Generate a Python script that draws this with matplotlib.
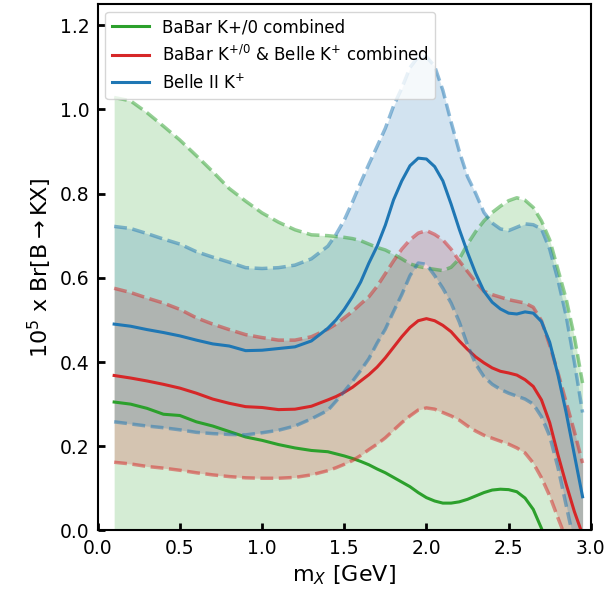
import numpy as np
import matplotlib
matplotlib.use("Agg")
import matplotlib.pyplot as plt

# m_X grid [GeV]: coarse below 1.4, finer where the curves bend
mx = [0.1, 0.2, 0.3, 0.4, 0.5, 0.6, 0.7, 0.8, 0.9, 1.0, 1.1, 1.2, 1.3, 1.4,
      1.45, 1.5, 1.55, 1.6, 1.65, 1.7, 1.75, 1.8, 1.85, 1.9, 1.95, 2.0,
      2.05, 2.1, 2.15, 2.2, 2.25, 2.3, 2.35, 2.4, 2.45, 2.5, 2.55, 2.6,
      2.65, 2.7, 2.75, 2.8, 2.85, 2.9, 2.95]

# BaBar K+/0 combined
babar_c = [0.305, 0.300, 0.290, 0.276, 0.273, 0.258, 0.248, 0.235, 0.222, 0.214,
           0.204, 0.196, 0.190, 0.187,
           0.182, 0.177, 0.171, 0.164, 0.156, 0.146, 0.137, 0.126, 0.115, 0.104,
           0.090, 0.078, 0.070, 0.065, 0.065, 0.068, 0.074, 0.082, 0.090, 0.096,
           0.098, 0.097, 0.092, 0.077, 0.050, 0.005, -0.05, -0.10, -0.15, -0.20, -0.25]
babar_hi = [1.028, 1.020, 0.992, 0.960, 0.927, 0.890, 0.852, 0.812, 0.782, 0.754,
            0.732, 0.714, 0.702, 0.700,
            0.698, 0.696, 0.693, 0.688, 0.680, 0.672, 0.666, 0.656, 0.645, 0.633,
            0.627, 0.623, 0.620, 0.617, 0.625, 0.645, 0.680, 0.710, 0.735, 0.755,
            0.770, 0.783, 0.790, 0.784, 0.767, 0.735, 0.690, 0.620, 0.550, 0.460, 0.350]
babar_lo = [-0.1] * len(mx)

# BaBar K+/0 & Belle K+ combined
comb_c = [0.368, 0.362, 0.355, 0.347, 0.338, 0.326, 0.312, 0.302, 0.294, 0.292,
          0.287, 0.288, 0.295, 0.310,
          0.318, 0.328, 0.340, 0.355, 0.370, 0.388, 0.410, 0.435, 0.460, 0.482,
          0.498, 0.503, 0.498, 0.487, 0.472, 0.450, 0.430, 0.412, 0.398, 0.386,
          0.378, 0.374, 0.369, 0.358, 0.342, 0.310, 0.256, 0.180, 0.110, 0.045, -0.01]
comb_hi = [0.575, 0.565, 0.552, 0.540, 0.525, 0.505, 0.490, 0.477, 0.465, 0.458,
           0.452, 0.452, 0.460, 0.478,
           0.490, 0.505, 0.520, 0.538, 0.555, 0.580, 0.610, 0.640, 0.668, 0.690,
           0.706, 0.712, 0.703, 0.690, 0.668, 0.640, 0.615, 0.590, 0.568, 0.560,
           0.554, 0.548, 0.544, 0.540, 0.530, 0.498, 0.440, 0.375, 0.305, 0.235, 0.160]
comb_lo = [0.162, 0.158, 0.152, 0.148, 0.143, 0.137, 0.132, 0.128, 0.125, 0.124,
           0.124, 0.126, 0.132, 0.142,
           0.149, 0.157, 0.166, 0.178, 0.192, 0.205, 0.220, 0.238, 0.256, 0.272,
           0.286, 0.291, 0.288, 0.280, 0.272, 0.262, 0.248, 0.236, 0.226, 0.219,
           0.212, 0.205, 0.196, 0.184, 0.160, 0.125, 0.082, 0.030, -0.02, -0.08, -0.13]

# Belle II K+
belle_c = [0.490, 0.485, 0.477, 0.470, 0.462, 0.452, 0.443, 0.438, 0.427, 0.428,
           0.432, 0.436, 0.450, 0.480,
           0.500, 0.525, 0.555, 0.590, 0.635, 0.675, 0.725, 0.785, 0.830, 0.866,
           0.884, 0.882, 0.864, 0.830, 0.775, 0.715, 0.660, 0.610, 0.568, 0.542,
           0.526, 0.516, 0.514, 0.519, 0.516, 0.496, 0.447, 0.370, 0.280, 0.180, 0.080]
belle_hi = [0.722, 0.717, 0.705, 0.692, 0.680, 0.662, 0.649, 0.637, 0.624, 0.622,
            0.624, 0.630, 0.645, 0.675,
            0.703, 0.737, 0.780, 0.826, 0.870, 0.912, 0.955, 1.008, 1.050, 1.099,
            1.125, 1.125, 1.102, 1.045, 0.970, 0.900, 0.840, 0.800, 0.755, 0.730,
            0.716, 0.712, 0.720, 0.728, 0.726, 0.716, 0.668, 0.595, 0.510, 0.400, 0.280]
belle_lo = [0.258, 0.253, 0.248, 0.244, 0.239, 0.233, 0.230, 0.228, 0.227, 0.232,
            0.238, 0.248, 0.265, 0.285,
            0.307, 0.330, 0.354, 0.380, 0.408, 0.445, 0.478, 0.520, 0.560, 0.605,
            0.635, 0.632, 0.605, 0.575, 0.540, 0.495, 0.440, 0.395, 0.365, 0.347,
            0.335, 0.326, 0.319, 0.312, 0.300, 0.270, 0.224, 0.150, 0.060, -0.03, -0.10]

series = [
    ("BaBar K+/0 combined", "#2ca02c", babar_c, babar_lo, babar_hi),
    (r"BaBar K$^{+/0}$ & Belle K$^{+}$ combined", "#d62728", comb_c, comb_lo, comb_hi),
    (r"Belle II K$^{+}$", "#1f77b4", belle_c, belle_lo, belle_hi),
]

fig = plt.figure(figsize=(6.08, 5.98), dpi=100)
ax = fig.add_axes([0.1607, 0.1129, 0.811, 0.8804])

for label, col, c, lo, hi in series:
    ax.fill_between(mx, lo, hi, color=col, alpha=0.2, lw=0)
    ax.plot(mx, hi, color=col, ls="--", lw=2.5, alpha=0.5)
    ax.plot(mx, lo, color=col, ls="--", lw=2.5, alpha=0.5)
    ax.plot(mx, c, color=col, lw=2.2, label=label)

ax.set_xlim(0, 3.0)
ax.set_ylim(0, 1.25)
ax.set_xticks(np.arange(0, 3.01, 0.5))
ax.set_yticks(np.arange(0, 1.21, 0.2))
ax.tick_params(direction="in", length=5, width=2, labelsize=13.5, pad=6)
for s in ax.spines.values():
    s.set_linewidth(1.5)

ax.set_xlabel(r"m$_X$ [GeV]", fontsize=16)
ax.set_ylabel(r"10$^5$ x Br[B$\rightarrow$KX]", fontsize=16)
ax.legend(loc="upper left", fontsize=12, handlelength=2.2, borderaxespad=0.45)

fig.savefig("out.png", dpi=100)
